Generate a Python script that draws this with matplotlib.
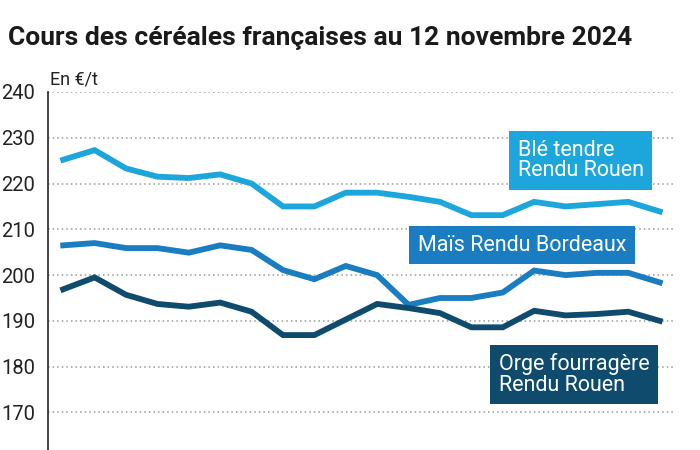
import matplotlib
matplotlib.use("Agg")
import matplotlib.pyplot as plt

plt.rcParams['font.family'] = ['Roboto', 'DejaVu Sans']

x_index = list(range(20))
ble = [225.2, 227.3, 223.3, 221.5, 221.2, 222.0, 220.0, 215.0, 215.0, 218.0,
       218.0, 217.1, 216.0, 213.1, 213.1, 216.0, 215.0, 215.5, 216.0, 213.9]
mais = [206.5, 207.0, 205.9, 205.9, 204.9, 206.5, 205.5, 201.1, 199.1, 202.0,
        200.0, 193.5, 195.0, 195.0, 196.2, 201.0, 200.0, 200.5, 200.5, 198.4]
orge = [196.9, 199.5, 195.7, 193.7, 193.1, 194.0, 192.0, 186.9, 186.9, 190.3,
        193.7, 192.8, 191.7, 188.6, 188.6, 192.2, 191.2, 191.5, 192.0, 190.0]
yticks = [170, 180, 190, 200, 210, 220, 230, 240]

c_ble = '#1DA6DC'
c_mais = '#1A7DC1'
c_orge = '#0F4B6D'

fig = plt.figure(figsize=(7, 4.5), dpi=100)
ax = fig.add_axes([0.068, 0.0, 0.896, 0.7956])

for v in yticks:
    ax.axhline(v, color='#9a9a9a', linestyle=(0, (1, 2)), linewidth=1.1, zorder=1)

ax.plot(x_index, ble, color=c_ble, linewidth=4.2, solid_joinstyle='miter', zorder=3)
ax.plot(x_index, mais, color=c_mais, linewidth=4.2, solid_joinstyle='miter', zorder=3)
ax.plot(x_index, orge, color=c_orge, linewidth=4.2, solid_joinstyle='miter', zorder=4)

ax.set_xlim(-0.497, 19.48)
ax.set_ylim(161.8, 240)
ax.set_yticks(yticks)
ax.set_xticks([])
for s in ['top', 'right', 'bottom']:
    ax.spines[s].set_visible(False)
ax.spines['left'].set_color('#333333')
ax.spines['left'].set_linewidth(1.3)
ax.tick_params(axis='y', length=0, pad=9, labelsize=14.5, labelcolor='#222222')

fig.text(0.011, 0.9, "Cours des céréales françaises au 12 novembre 2024",
         fontsize=19, fontweight='bold', color='#1a1a1a', va='baseline')
fig.text(0.071, 0.813, "En €/t", fontsize=13, color='#222222', va='baseline')

def label(x, y, txt, col):
    ax.text(x, y, txt, color='white', fontsize=15.5, ha='left', va='center',
            linespacing=0.95, zorder=6,
            bbox=dict(boxstyle='square,pad=0.4', facecolor=col, edgecolor='none'))

label(14.48, 225.0, "Blé tendre\nRendu Rouen", c_ble)
label(11.29, 206.5, "Maïs Rendu Bordeaux", c_mais)
label(13.87, 178.3, "Orge fourragère\nRendu Rouen", c_orge)

fig.savefig("out.png", dpi=100)
